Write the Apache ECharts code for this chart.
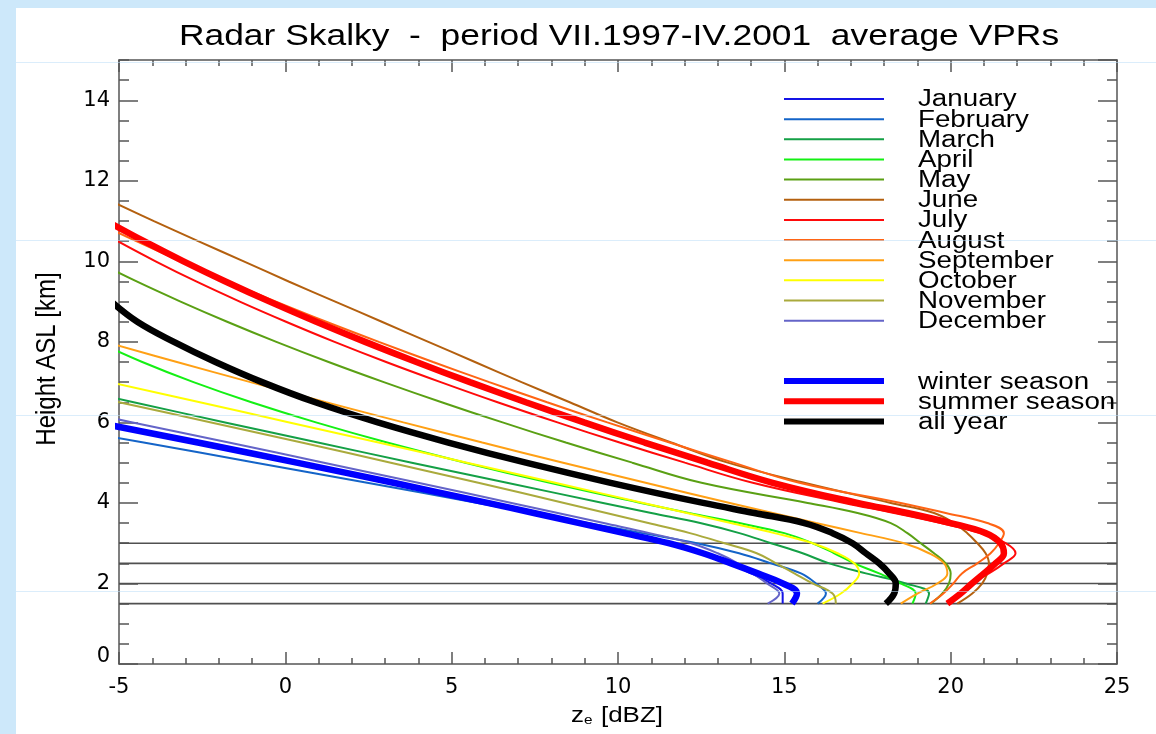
<!DOCTYPE html>
<html>
<head>
<meta charset="utf-8">
<script src="https://cdn.jsdelivr.net/npm/echarts@6/dist/echarts.min.js"></script>
<style>
html,body{margin:0;padding:0;background:#cde8fa;}
#chart{position:absolute;left:0;top:0;width:1156px;height:734px;}
</style>
</head>
<body>
<div id="chart"></div>
<script>
// Heights (km ASL) at which the reflectivity profiles are sampled
const heights = [1.5, 1.75, 2, 2.25, 2.5, 2.75, 3, 3.25, 3.5, 3.75, 4, 4.5, 5, 5.5, 6,
  6.5, 7, 7.5, 8, 8.5, 9, 9.5, 10, 10.5, 11, 11.5, 12];

// Average reflectivity Ze [dBZ] at each height, one array per month
const january   = [14.95, 14.95, 14.6, 14.0, 13.35, 12.6, 11.6, 10.3, 8.95, 7.55, 6.15, 3.35, 0.45, -2.5, -5.45];
const february  = [16.0, 16.25, 15.95, 15.5, 14.6, 13.64, 12.37, 10.73, 9.09, 7.44, 5.78, 2.46, -0.89, -4.26, -7.65];
const march     = [19.25, 19.35, 18.65, 17.45, 16.35, 15.55, 14.6, 13.65, 12.47, 11.0, 9.55, 6.66, 3.8, 0.98, -1.81, -4.56, -7.28];
const april     = [18.85, 18.95, 18.5, 17.85, 17.1, 16.5, 15.85, 15.0, 13.65, 12.13, 10.69, 7.95, 5.41, 3.06, 0.92, -1.02, -2.76, -4.3, -5.65];
const may       = [19.4, 19.75, 19.95, 20.0, 19.85, 19.5, 19.1, 18.7, 18.2, 17.2, 15.7, 12.51, 10.43, 8.43, 6.53, 4.7, 2.96, 1.3, -0.27, -1.75, -3.15, -4.47, -5.7];
const june      = [20.2, 20.65, 20.95, 21.1, 21.15, 21.05, 20.8, 20.5, 20.1, 19.5, 18.2, 15.6, 13.3, 11.6, 9.98, 8.55, 7.1, 5.7, 4.3, 2.9, 1.5, 0.1, -1.25, -2.62, -3.95, -5.25];
const july      = [19.9, 20.25, 20.6, 21.15, 21.6, 21.95, 21.65, 20.9, 19.7, 18.3, 16.8, 14.05, 12.01, 10.05, 8.18, 6.38, 4.67, 3.03, 1.48, 0.02, -1.37, -2.68, -3.9, -5.04];
const august    = [19.38, 19.78, 20.08, 20.34, 20.8, 21.2, 21.45, 21.6, 21.1, 19.85, 18.5, 15.45, 13.47, 11.55, 9.68, 7.87, 6.13, 4.44, 2.81, 1.23, -0.28, -1.74, -3.14, -4.48, -5.76];
const september = [18.5, 19.0, 19.6, 19.9, 19.8, 19.35, 18.6, 17.3, 15.95, 14.65, 13.36, 10.83, 8.35, 5.92, 3.55, 1.22, -1.05, -3.26, -5.43];
const october   = [16.15, 16.7, 17.05, 17.25, 17.1, 16.6, 15.85, 14.7, 13.39, 12.07, 10.76, 8.11, 5.46, 2.8, 0.12, -2.57, -5.27];
const november  = [16.55, 16.45, 15.85, 15.3, 14.75, 14.17, 13.2, 12.16, 10.91, 9.65, 8.38, 5.8, 3.17, 0.49, -2.23, -5.0, -7.82];
const december  = [14.5, 14.85, 14.48, 14.05, 13.6, 13.0, 12.2, 10.95, 9.57, 8.19, 6.8, 3.99, 1.16, -1.7, -4.59, -7.51];

// Seasonal and annual averages
const winterSeason = [15.23, 15.38, 14.95, 14.2, 13.4, 12.55, 11.52, 10.19, 8.84, 7.47, 6.08, 3.25, 0.34, -2.63, -5.68];
const summerSeason = [19.9, 20.3, 20.64, 21.0, 21.35, 21.6, 21.5, 21.05, 20.0, 18.7, 17.2, 14.65, 12.69, 10.8, 8.98, 7.23, 5.55, 3.94, 2.4, 0.93, -0.47, -1.8, -3.06, -4.25, -5.37];
const allYear      = [18.05, 18.3, 18.35, 18.15, 17.85, 17.45, 17.05, 16.45, 15.6, 14.1, 12.56, 9.78, 7.23, 4.9, 2.78, 0.9, -0.7, -2.1, -3.35, -4.45, -5.23];

// Horizontal reference heights (km)
const refHeights = [1.5, 2, 2.5, 3];

// Axis ticks
const xTicks = [-5, 0, 5, 10, 15, 20, 25];
const yTicks = [0, 2, 4, 6, 8, 10, 12, 14];
const yMax = 15;

const monthNames = ['January', 'February', 'March', 'April', 'May', 'June', 'July',
  'August', 'September', 'October', 'November', 'December'];
const monthValues = [january, february, march, april, may, june, july, august,
  september, october, november, december];
const monthColors = ['#1414e6', '#1464c8', '#14a046', '#14f014', '#5aa014', '#b4600f',
  '#ff0a0a', '#ff6414', '#ffa014', '#ffff00', '#aaaa3c', '#6464c8'];

const seasonNames = ['winter season', 'summer season', 'all year'];
const seasonValues = [winterSeason, summerSeason, allYear];
const seasonColors = ['#0000ff', '#ff0000', '#000000'];

const FONT = '"Liberation Sans", Arial, Helvetica, sans-serif';
const STRETCH = 1.18;
const SMOOTH = 0.4;

function toPairs(values) {
  return values.map((v, i) => [v, heights[i]]);
}

const series = [];
refHeights.forEach(h => {
  series.push({
    type: 'line', silent: true, showSymbol: false, z: 1,
    data: [[xTicks[0], h], [xTicks[xTicks.length - 1], h]],
    lineStyle: { color: '#505050', width: 1.6 }
  });
});
monthNames.forEach((name, i) => {
  series.push({
    name, type: 'line', showSymbol: false, smooth: SMOOTH, clip: true, z: 3,
    data: toPairs(monthValues[i]),
    lineStyle: { color: monthColors[i], width: 2 }
  });
});
seasonNames.forEach((name, i) => {
  series.push({
    name, type: 'line', showSymbol: false, smooth: SMOOTH, clip: true, z: 4,
    data: toPairs(seasonValues[i]),
    lineStyle: { color: seasonColors[i], width: 6.5, cap: 'butt' }
  });
});

// Legend drawn as line samples plus stretched labels
const legendX0 = 784, legendX1 = 884, legendTextX = 918, legendY0 = 99, legendStep = 20.15;
const graphics = [];
graphics.push({ type: 'rect', z: -100, silent: true,
  shape: { x: 16, y: 8, width: 1140, height: 726 }, style: { fill: '#ffffff' } });

function legendRow(name, color, width, row) {
  const y = legendY0 + legendStep * row;
  graphics.push({ type: 'line', z: 50, silent: true,
    shape: { x1: legendX0, y1: y, x2: legendX1, y2: y },
    style: { stroke: color, lineWidth: width } });
  graphics.push({ type: 'text', z: 50, silent: true, x: legendTextX, y: y + 1, scaleX: STRETCH,
    style: { text: name, font: '23.5px ' + FONT, fill: '#000', align: 'left', verticalAlign: 'middle' } });
}
monthNames.forEach((n, i) => legendRow(n, monthColors[i], 2, i));
seasonNames.forEach((n, i) => legendRow(n, seasonColors[i], 6, 14 + i));

// Title
graphics.push({ type: 'text', z: 50, silent: true, x: 619, y: 37, scaleX: STRETCH,
  style: { text: 'Radar Skalky  -  period VII.1997-IV.2001  average VPRs',
    font: '30px ' + FONT, fill: '#000', align: 'center', verticalAlign: 'middle' } });

// Axis names
graphics.push({ type: 'text', z: 50, silent: true, x: 47, y: 359, rotation: Math.PI / 2, scaleY: STRETCH,
  style: { text: 'Height ASL [km]', font: '24px ' + FONT, fill: '#000', align: 'center', verticalAlign: 'middle' } });
graphics.push({ type: 'text', z: 50, silent: true, x: 617, y: 716, scaleX: STRETCH,
  style: { text: '{z|z}{e|e}{t| [dBZ]}', fill: '#000', align: 'center', verticalAlign: 'middle',
    rich: {
      z: { font: '22px ' + FONT, fill: '#000' },
      e: { font: '13px ' + FONT, fill: '#000', verticalAlign: 'bottom', padding: [8, 1, 0, 0] },
      t: { font: '22px ' + FONT, fill: '#000' }
    } } });

// Faint guide lines across the panel
[62, 240, 415, 591].forEach(y => {
  graphics.push({ type: 'line', z: 200, silent: true,
    shape: { x1: 16, y1: y + 0.5, x2: 1156, y2: y + 0.5 },
    style: { stroke: 'rgba(190,222,248,0.55)', lineWidth: 1 } });
});

const axisColor = '#555';
const tickLine = { color: axisColor, width: 1.5 };
const labelStyle = { color: '#000', fontSize: 21, fontFamily: 'DejaVu Sans' };

const xStep = xTicks[1] - xTicks[0];
const yStep = yTicks[1] - yTicks[0];
const xBase = {
  type: 'value', min: xTicks[0], max: xTicks[xTicks.length - 1], interval: xStep,
  axisLine: { show: true, onZero: false, lineStyle: { color: axisColor, width: 1.5 } },
  axisTick: { show: true, inside: true, length: 12, lineStyle: tickLine },
  minorTick: { show: true, splitNumber: 5, length: 6, lineStyle: tickLine },
  splitLine: { show: false }, minorSplitLine: { show: false }
};
const yMajor = {
  type: 'value', min: 0, max: yMax, interval: yStep,
  axisLine: { show: true, onZero: false, lineStyle: { color: axisColor, width: 1.5 } },
  axisTick: { show: true, inside: true, length: 19, lineStyle: tickLine },
  splitLine: { show: false }
};
const yMinor = {
  type: 'value', min: 0, max: yMax, interval: yStep / 4,
  axisLine: { show: false, onZero: false },
  axisTick: { show: true, inside: true, length: 10, lineStyle: tickLine },
  axisLabel: { show: false }, splitLine: { show: false }
};

const chart = echarts.init(document.getElementById('chart'), null, { renderer: 'canvas' });
chart.setOption({
  backgroundColor: '#cde8fa',
  animation: false,
  grid: { left: 119, right: 39, top: 60, bottom: 70, containLabel: false, outerBoundsMode: 'none' },
  xAxis: [
    Object.assign({}, xBase, { position: 'bottom',
      axisLabel: Object.assign({ margin: 13 }, labelStyle) }),
    Object.assign({}, xBase, { position: 'top', axisLabel: { show: false } })
  ],
  yAxis: [
    Object.assign({}, yMajor, { position: 'left',
      axisLabel: Object.assign({ margin: 9, lineHeight: 14, showMaxLabel: false, verticalAlignMinLabel: 'bottom',
        formatter: v => (yTicks.indexOf(v) >= 0 ? String(v) : '') }, labelStyle) }),
    Object.assign({}, yMinor, { position: 'left' }),
    Object.assign({}, yMajor, { position: 'right', axisLabel: { show: false } }),
    Object.assign({}, yMinor, { position: 'right' })
  ],
  series: series,
  graphic: graphics
});
</script>
</body>
</html>
